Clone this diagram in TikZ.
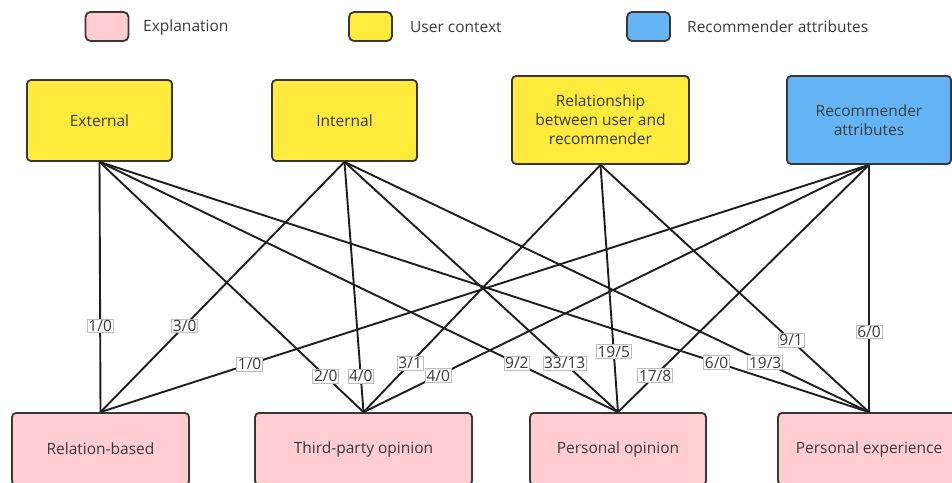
\documentclass[tikz,border=0pt]{standalone}
\usepackage{fontspec}
\setmainfont{Open Sans}
\definecolor{expfill}{HTML}{FFCDD2}
\definecolor{ctxfill}{HTML}{FFEB3B}
\definecolor{attrfill}{HTML}{64B5F6}
\definecolor{boxline}{HTML}{383838}
\definecolor{txt}{HTML}{3A3A3A}
\definecolor{wire}{HTML}{1E1E1E}
\definecolor{lblline}{HTML}{BDBDBD}
\tikzset{
  box/.style={draw=boxline, line width=1.8pt, rounded corners=4pt, align=center,
    text=txt, inner sep=0pt, font=\fontsize{15.5}{19}\selectfont},
  ctxbox/.style={box, fill=ctxfill},
  attrbox/.style={box, fill=attrfill},
  expbox/.style={box, fill=expfill},
  swatch/.style={draw=boxline, line width=1.8pt, rounded corners=5pt, minimum width=43pt,
    minimum height=29pt, inner sep=0pt},
  legtext/.style={anchor=west, text=txt, inner sep=0pt, font=\fontsize{15.5}{17}\selectfont},
  wireline/.style={draw=wire, line width=1.9pt},
  lbl/.style={fill=white, draw=lblline, line width=0.7pt, text=txt, inner sep=1.2pt,
    font=\fontsize{15.5}{17}\selectfont}
}
\begin{document}
\begin{tikzpicture}[x=1pt,y=-1pt]
\useasboundingbox (0,0) rectangle (952,482);
\clip (0,0) rectangle (952,482);

% legend
\node[swatch, fill=expfill] (legexp) at (107,26.5) {};
\node[legtext] (legexpt) at (143,27) {Explanation};
\node[swatch, fill=ctxfill] (legctx) at (370.5,26.5) {};
\node[legtext] (legctxt) at (410,27) {User context};
\node[swatch, fill=attrfill] (legattr) at (648.5,26.5) {};
\node[legtext] (legattrt) at (687,27) {Recommender attributes};

% user context and recommender nodes
\node[ctxbox, minimum width=145pt, minimum height=81pt] (ext) at (99.5,120.5) {External};
\node[ctxbox, minimum width=145pt, minimum height=81pt] (int) at (344.5,120.5) {Internal};
\node[ctxbox, minimum width=177pt, minimum height=88pt] (rsh) at (600.5,120) {Relationship\\between user and\\recommender};
\node[attrbox, minimum width=164pt, minimum height=88pt] (rat) at (869,120) {Recommender\\attributes};

% explanation nodes
\node[expbox, minimum width=177pt, minimum height=72pt] (rel) at (100.5,449) {Relation-based};
\node[expbox, minimum width=217pt, minimum height=72pt] (tpo) at (363.5,449) {Third-party opinion};
\node[expbox, minimum width=176pt, minimum height=72pt] (pop) at (618,449) {Personal opinion};
\node[expbox, minimum width=182pt, minimum height=72pt] (pex) at (869,449) {Personal experience};

% connectors
\draw[wireline] (ext.south) -- (rel.north);
\draw[wireline] (ext.south) -- (tpo.north);
\draw[wireline] (ext.south) -- (pop.north);
\draw[wireline] (ext.south) -- (pex.north);
\draw[wireline] (int.south) -- (rel.north);
\draw[wireline] (int.south) -- (tpo.north);
\draw[wireline] (int.south) -- (pop.north);
\draw[wireline] (int.south) -- (pex.north);
\draw[wireline] (rsh.south) -- (tpo.north);
\draw[wireline] (rsh.south) -- (pop.north);
\draw[wireline] (rsh.south) -- (pex.north);
\draw[wireline] (rat.south) -- (rel.north);
\draw[wireline] (rat.south) -- (tpo.north);
\draw[wireline] (rat.south) -- (pop.north);
\draw[wireline] (rat.south) -- (pex.north);

% connector labels
\path (ext.south) -- (rel.north) node[lbl, pos=0.655] (l1) {1/0};
\path (ext.south) -- (tpo.north) node[lbl, pos=0.857] (l2) {2/0};
\path (ext.south) -- (pop.north) node[lbl, pos=0.805] (l3) {9/2};
\path (ext.south) -- (pex.north) node[lbl, pos=0.802] (l4) {6/0};
\path (int.south) -- (rel.north) node[lbl, pos=0.655] (l5) {3/0};
\path (int.south) -- (tpo.north) node[lbl, pos=0.857] (l6) {4/0};
\path (int.south) -- (pop.north) node[lbl, pos=0.805] (l7) {33/13};
\path (int.south) -- (pex.north) node[lbl, pos=0.802] (l8) {19/3};
\path (rsh.south) -- (tpo.north) node[lbl, pos=0.803] (l9) {3/1};
\path (rsh.south) -- (pop.north) node[lbl, pos=0.755] (l10) {19/5};
\path (rsh.south) -- (pex.north) node[lbl, pos=0.71] (l11) {9/1};
\path (rat.south) -- (rel.north) node[lbl, pos=0.806] (l12) {1/0};
\path (rat.south) -- (tpo.north) node[lbl, pos=0.852] (l13) {4/0};
\path (rat.south) -- (pop.north) node[lbl, pos=0.852] (l14) {17/8};
\path (rat.south) -- (pex.north) node[lbl, pos=0.675] (l15) {6/0};
\end{tikzpicture}
\end{document}
